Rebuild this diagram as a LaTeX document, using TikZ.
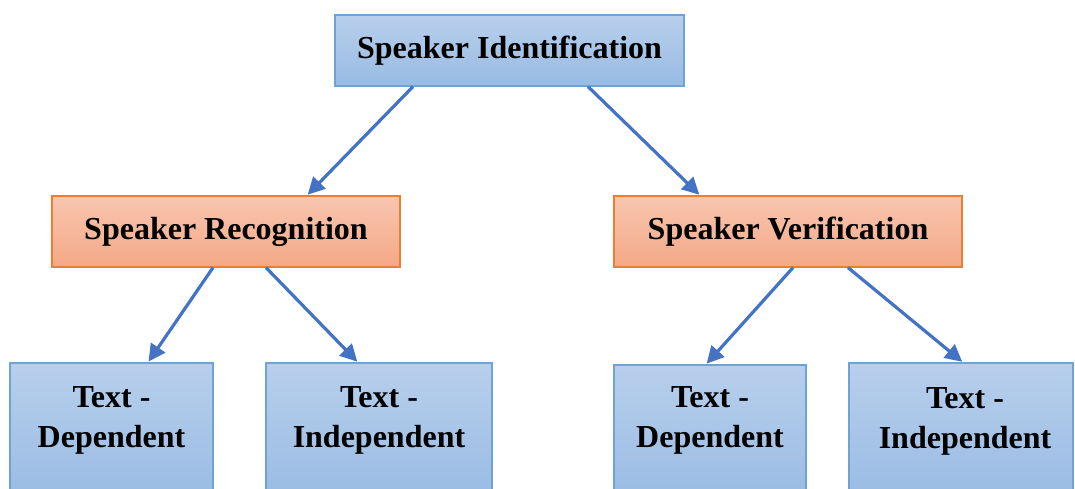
\documentclass[tikz,border=0pt]{standalone}
\usepackage{fontspec}
\setmainfont{Liberation Serif}
\usetikzlibrary{arrows.meta}
\definecolor{boxblue}{RGB}{111,163,214}
\definecolor{bluetop}{RGB}{184,207,236}
\definecolor{bluebot}{RGB}{152,187,227}
\definecolor{boxorange}{RGB}{237,125,49}
\definecolor{orangetop}{RGB}{248,198,176}
\definecolor{orangebot}{RGB}{244,168,134}
\definecolor{arrowblue}{RGB}{68,114,196}
\tikzset{
  bluebox/.style={draw=boxblue, line width=1.2pt, top color=bluetop, bottom color=bluebot, inner sep=0pt},
  orangebox/.style={draw=boxorange, line width=1.2pt, top color=orangetop, bottom color=orangebot, inner sep=0pt},
  boxtext/.style={font=\bfseries\fontsize{32}{40}\selectfont, align=center, inner sep=0pt},
  link/.style={draw=arrowblue, line width=3.2pt, -{Triangle[length=17pt,width=17pt]}, shorten >=1pt}
}
\begin{document}
\begin{tikzpicture}[x=1pt,y=-1pt]
  \useasboundingbox (0,0) rectangle (1075,489);
  % top level
  \node[bluebox, minimum width=349pt, minimum height=71pt, boxtext] (top) at (509.5,50.5) {Speaker Identification};
  % second level
  \node[orangebox, minimum width=348pt, minimum height=71pt, boxtext] (rec) at (226,231.5) {Speaker Recognition};
  \node[orangebox, minimum width=348pt, minimum height=71pt, boxtext] (ver) at (788,231.5) {Speaker Verification};
  % leaves (boxes run past the lower edge)
  \node[bluebox, minimum width=203pt, minimum height=140pt] (b1) at (111.5,433) {};
  \node[bluebox, minimum width=226pt, minimum height=140pt] (b2) at (379,433) {};
  \node[bluebox, minimum width=192pt, minimum height=140pt] (b3) at (710,435) {};
  \node[bluebox, minimum width=224pt, minimum height=140pt] (b4) at (961,433) {};
  \node[boxtext] (t1) at (111.5,420) {Text -\\Dependent};
  \node[boxtext] (t2) at (379,420) {Text -\\Independent};
  \node[boxtext] (t3) at (710,420) {Text -\\Dependent};
  \node[boxtext] (t4) at (965,421) {Text -\\Independent};
  % connectors
  \draw[link] ([xshift=-96.5pt]top.south) -- ([xshift=81pt]rec.north);
  \draw[link] ([xshift=78.5pt]top.south) -- ([xshift=-88pt]ver.north);
  \draw[link] ([xshift=-13pt]rec.south) -- ([xshift=36.5pt]b1.north);
  \draw[link] ([xshift=40pt]rec.south) -- ([xshift=-21pt]b2.north);
  \draw[link] ([xshift=5pt]ver.south) -- ([xshift=-4pt]b3.north);
  \draw[link] ([xshift=60pt]ver.south) -- ([xshift=2pt]b4.north);
\end{tikzpicture}
\end{document}
